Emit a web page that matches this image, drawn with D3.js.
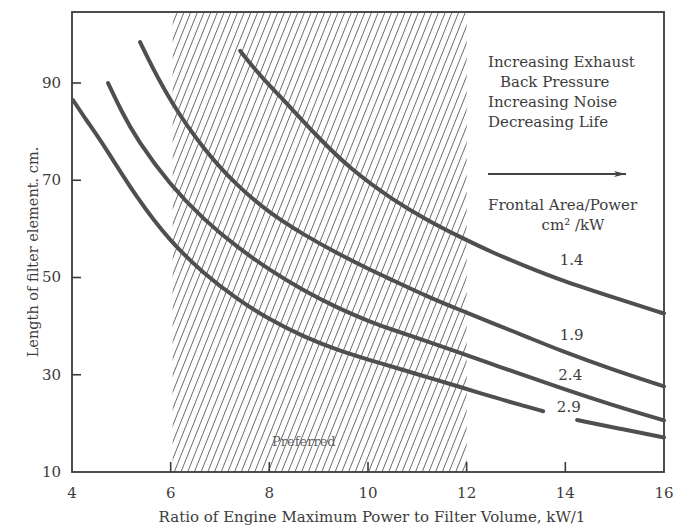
<!DOCTYPE html>
<html>
<head>
<meta charset="utf-8">
<script src="https://cdn.jsdelivr.net/npm/d3@7"></script>
<style>
  body { margin: 0; background: #fff; }
  text { font-family: "DejaVu Serif", serif; fill: #3c3c3c; }
</style>
</head>
<body>
<svg width="680" height="529"></svg>
<script>
// data
const xTicks = [4, 6, 8, 10, 12, 14, 16];
const yTicks = [10, 30, 50, 70, 90];
const preferred = [6, 12]; // hatched band
const curveNames = ["1.4", "1.9", "2.4", "2.9"];
// label position of each curve name [x, y]
const labelPos = [[14.13, 53.6], [14.13, 38.2], [14.1, 30.0], [14.07, 23.3]];

const curve14 = [[7.41, 96.6], [7.7, 92.9], [8.01, 89.4], [8.28, 86.6], [8.97, 79.0], [9.64, 72.3],
  [10.51, 65.9], [11.2, 61.8], [11.87, 58.3], [12.53, 55.1], [13.22, 52.2],
  [13.89, 49.5], [14.97, 45.9], [16.0, 42.6]];
const curve19 = [[5.38, 98.4], [5.6, 93.8], [5.99, 86.3], [6.66, 76.4], [7.34, 68.9], [8.01, 63.2],
  [8.68, 58.9], [9.37, 55.0], [10.04, 51.6], [10.51, 49.4], [11.2, 46.1],
  [11.87, 43.3], [12.53, 40.6], [13.22, 37.8], [13.89, 35.0], [14.97, 31.0], [16.0, 27.6]];
const curve24 = [[4.73, 90.0], [5.0, 84.2], [5.32, 78.3], [5.99, 69.0], [6.66, 62.0], [7.34, 56.3],
  [8.01, 51.5], [8.68, 47.4], [9.37, 43.8], [10.04, 40.9], [10.51, 39.2],
  [11.2, 36.9], [11.87, 34.5], [12.53, 32.1], [12.94, 30.7], [13.95, 27.1],
  [14.97, 23.7], [16.0, 20.6]];
// 2.9 is broken where its label sits
const curve29 = [[4.02, 86.5], [4.3, 82.2], [4.63, 77.5], [5.32, 66.2], [5.99, 57.4], [6.66, 50.9],
  [7.34, 45.6], [8.01, 41.3], [8.68, 37.9], [9.37, 35.1], [10.04, 33.0],
  [10.51, 31.6], [11.2, 29.5], [11.87, 27.5], [12.53, 25.4], [13.2, 23.5], [13.55, 22.5],
  null, [14.24, 20.7], [15.1, 18.9], [16.0, 17.1]];
const curves = [curve14, curve19, curve24, curve29];

const notes = ["Increasing Exhaust", "Back Pressure", "Increasing Noise", "Decreasing Life"];
const legendTitle = ["Frontal Area/Power", "cm\u00b2 /kW"];

const svg = d3.select("svg");
const x = d3.scaleLinear().domain([4, 16]).range([72, 664]);
const y = d3.scaleLinear().domain([10, 104.6]).range([472, 12]);
const ink = "#3a3a3a";

// hatched "Preferred" band
svg.append("clipPath").attr("id", "band")
  .append("rect")
    .attr("x", x(preferred[0]) + 2)
    .attr("y", y(104.6) + 1)
    .attr("width", x(preferred[1]) - x(preferred[0]) - 2)
    .attr("height", y(10) - y(104.6) - 1);

const bandTop = y(104.6), bandBot = y(10);
const lean = 0.4 * (bandBot - bandTop);
const hatchX = d3.range(x(preferred[0]) - lean, x(preferred[1]), 6.7);
svg.append("g")
    .attr("clip-path", "url(#band)")
  .selectAll("line")
  .data(hatchX)
  .enter().append("line")
    .attr("x1", d => d)
    .attr("y1", bandBot)
    .attr("x2", d => d + lean)
    .attr("y2", bandTop)
    .attr("stroke", "#5a5a5a")
    .attr("stroke-width", 0.9);

svg.append("text")
    .attr("x", x(8.7))
    .attr("y", y(15.3))
    .attr("text-anchor", "middle")
    .attr("font-size", 13)
    .style("fill", "#666")
    .text("Preferred");

// frame
svg.append("rect")
    .attr("x", x(4)).attr("y", y(104.6))
    .attr("width", x(16) - x(4)).attr("height", y(10) - y(104.6))
    .attr("fill", "none")
    .attr("stroke", ink)
    .attr("stroke-width", 1.8);

// inward ticks
svg.append("g").selectAll("line")
  .data(yTicks.slice(1))
  .enter().append("line")
    .attr("x1", x(4)).attr("x2", x(4) + 9)
    .attr("y1", d => y(d)).attr("y2", d => y(d))
    .attr("stroke", ink).attr("stroke-width", 1.6);

svg.append("g").selectAll("line")
  .data(xTicks.slice(1, -1))
  .enter().append("line")
    .attr("x1", d => x(d)).attr("x2", d => x(d))
    .attr("y1", y(10)).attr("y2", y(10) - 10)
    .attr("stroke", ink).attr("stroke-width", 1.6);

// tick labels
svg.append("g").selectAll("text")
  .data(xTicks)
  .enter().append("text")
    .attr("x", d => x(d))
    .attr("y", 498)
    .attr("text-anchor", "middle")
    .attr("font-size", 15)
    .text(d => d);

svg.append("g").selectAll("text")
  .data(yTicks)
  .enter().append("text")
    .attr("x", 61)
    .attr("y", d => y(d) + 5)
    .attr("text-anchor", "end")
    .attr("font-size", 15)
    .text(d => d);

// axis titles
svg.append("text")
    .attr("x", 372)
    .attr("y", 522)
    .attr("text-anchor", "middle")
    .attr("font-size", 15)
    .text("Ratio of Engine Maximum Power to Filter Volume, kW/1");

svg.append("text")
    .attr("transform", "translate(38,252) rotate(-90)")
    .attr("text-anchor", "middle")
    .attr("font-size", 14.5)
    .text("Length of filter element. cm.");

// curves
const line = d3.line()
    .defined(d => d !== null)
    .x(d => x(d[0]))
    .y(d => y(d[1]))
    .curve(d3.curveBasis);

svg.append("g").selectAll("path")
  .data(curves)
  .enter().append("path")
    .attr("d", line)
    .attr("fill", "none")
    .attr("stroke", "#4f4f4f")
    .attr("stroke-width", 4)
    .attr("stroke-linecap", "round");

svg.append("g").selectAll("text")
  .data(curveNames)
  .enter().append("text")
    .attr("x", (d, i) => x(labelPos[i][0]))
    .attr("y", (d, i) => y(labelPos[i][1]) + 5)
    .attr("text-anchor", "middle")
    .attr("font-size", 15)
    .text(d => d);

// notes at the right
svg.append("g").selectAll("text")
  .data(notes)
  .enter().append("text")
    .attr("x", (d, i) => i === 1 ? 500 : 488)
    .attr("y", (d, i) => 67 + i * 20)
    .attr("font-size", 15)
    .text(d => d);

svg.append("defs").append("marker")
    .attr("id", "head")
    .attr("viewBox", "0 0 12 6")
    .attr("refX", 12).attr("refY", 3)
    .attr("markerWidth", 12).attr("markerHeight", 6)
    .attr("markerUnits", "userSpaceOnUse")
    .attr("orient", "auto")
  .append("path")
    .attr("d", "M0,0L12,3L0,6L3,3Z")
    .attr("fill", "#444");

svg.append("line")
    .attr("x1", 488).attr("x2", 626)
    .attr("y1", 174).attr("y2", 174)
    .attr("stroke", "#444")
    .attr("stroke-width", 1.8)
    .attr("marker-end", "url(#head)");

svg.append("g").selectAll("text")
  .data(legendTitle)
  .enter().append("text")
    .attr("x", (d, i) => i === 0 ? 488 : 573)
    .attr("y", (d, i) => 210 + i * 20)
    .attr("text-anchor", (d, i) => i === 0 ? "start" : "middle")
    .attr("font-size", 15)
    .text(d => d);
</script>
</body>
</html>
